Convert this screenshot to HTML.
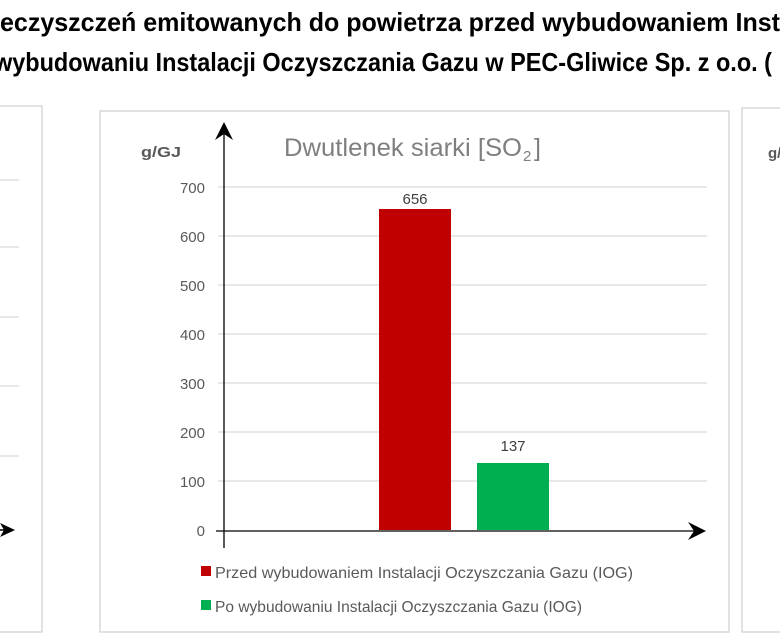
<!DOCTYPE html>
<html><head><meta charset="utf-8"><style>
html,body{margin:0;padding:0;background:#fff;}
svg{display:block;}
</style></head><body>
<svg width="780" height="635" viewBox="0 0 780 635" xmlns="http://www.w3.org/2000/svg" font-family="'Liberation Sans', sans-serif">
<rect width="780" height="635" fill="#fff"/>
<text x="0" y="31" font-size="26" font-weight="bold" fill="#000" textLength="780" lengthAdjust="spacingAndGlyphs">eczyszczeń emitowanych do powietrza przed wybudowaniem Inst</text>
<text x="-6" y="71" font-size="26" font-weight="bold" fill="#000" textLength="778" lengthAdjust="spacingAndGlyphs">wybudowaniu Instalacji Oczyszczania Gazu w PEC-Gliwice Sp. z o.o. (</text>

<rect x="-5" y="106" width="47" height="526" fill="none" stroke="#d9d9d9" stroke-width="1.5"/>
<g stroke="#d9d9d9" stroke-width="1.2">
<line x1="0" y1="180" x2="19" y2="180"/><line x1="0" y1="247" x2="19" y2="247"/><line x1="0" y1="317" x2="19" y2="317"/><line x1="0" y1="386" x2="19" y2="386"/><line x1="0" y1="456" x2="19" y2="456"/>
</g>
<line x1="0" y1="530" x2="8" y2="530" stroke="#000" stroke-width="1.5"/>
<polygon points="15,530 0,523 4,530 0,537" fill="#000"/>

<rect x="742" y="108" width="50" height="524" fill="none" stroke="#d9d9d9" stroke-width="1.5"/>
<text x="768" y="158" font-size="15" font-weight="bold" fill="#595959">g/</text>

<rect x="100" y="111" width="629" height="521" fill="none" stroke="#d9d9d9" stroke-width="1.5"/>
<g stroke="#d9d9d9" stroke-width="1.2">
<line x1="218" y1="187" x2="707" y2="187"/>
<line x1="218" y1="236" x2="707" y2="236"/>
<line x1="218" y1="285" x2="707" y2="285"/>
<line x1="218" y1="334" x2="707" y2="334"/>
<line x1="218" y1="383" x2="707" y2="383"/>
<line x1="218" y1="432" x2="707" y2="432"/>
<line x1="218" y1="481" x2="707" y2="481"/>
</g>
<g font-size="15" fill="#595959" text-anchor="end">
<text x="205" y="193">700</text><text x="205" y="242">600</text><text x="205" y="291">500</text><text x="205" y="340">400</text><text x="205" y="389">300</text><text x="205" y="438">200</text><text x="205" y="487">100</text><text x="205" y="536">0</text>
</g>
<text x="141" y="157" font-size="15" font-weight="bold" fill="#595959" textLength="40" lengthAdjust="spacingAndGlyphs">g/GJ</text>
<text x="284" y="156" font-size="25" fill="#7f7f7f" textLength="238" lengthAdjust="spacingAndGlyphs">Dwutlenek siarki [SO</text>
<text x="523" y="161" font-size="15" fill="#7f7f7f">2</text>
<text x="534" y="156" font-size="25" fill="#7f7f7f">]</text>

<rect x="379" y="209" width="72" height="321" fill="#c00000"/>
<rect x="477" y="463" width="72" height="67" fill="#00b050"/>
<text x="415" y="204" font-size="15" fill="#404040" text-anchor="middle">656</text>
<text x="513" y="451" font-size="15" fill="#404040" text-anchor="middle">137</text>

<line x1="224" y1="130" x2="224" y2="548" stroke="#000" stroke-width="1.3"/>
<polygon points="224,122 215,140 224,134 233,140" fill="#000"/>
<line x1="216" y1="531" x2="697" y2="531" stroke="#000" stroke-width="1.3"/>
<polygon points="706,531 688,522 694,531 688,540" fill="#000"/>

<rect x="201" y="566" width="10" height="10" fill="#c00000"/>
<text x="215" y="578" font-size="16" fill="#595959" textLength="418" lengthAdjust="spacingAndGlyphs">Przed wybudowaniem Instalacji Oczyszczania Gazu (IOG)</text>
<rect x="201" y="600" width="10" height="10" fill="#00b050"/>
<text x="215" y="612" font-size="16" fill="#595959" textLength="367" lengthAdjust="spacingAndGlyphs">Po wybudowaniu Instalacji Oczyszczania Gazu (IOG)</text>
</svg>
</body></html>
